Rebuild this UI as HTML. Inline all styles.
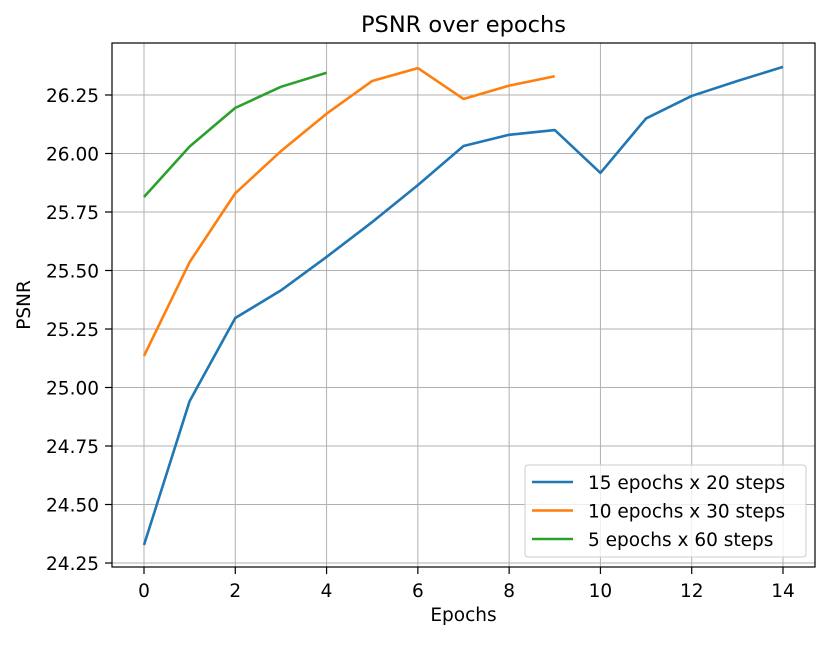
<!DOCTYPE html>
<html><head><meta charset="utf-8"><style>
body{margin:0;background:#fff;}
text{font-family:"DejaVu Sans","Liberation Sans",sans-serif;fill:#000;}
</style></head><body>
<svg id="chart" width="830" height="642" viewBox="0 0 830 642" xmlns="http://www.w3.org/2000/svg"></svg>
<script>
const epochsBlue=[0,1,2,3,4,5,6,7,8,9,10,11,12,13,14];
const blueValues=[24.327,24.942,25.297,25.415,25.558,25.707,25.865,26.032,26.08,26.10,25.917,26.15,26.246,26.31,26.37];
const epochsOrange=[0,1,2,3,4,5,6,7,8,9];
const orangeValues=[25.135,25.536,25.83,26.01,26.17,26.31,26.365,26.233,26.29,26.33];
const epochsGreen=[0,1,2,3,4];
const greenValues=[25.814,26.03,26.195,26.285,26.345];
const xTicks=[0,2,4,6,8,10,12,14];
const yTicks=[24.25,24.5,24.75,25.0,25.25,25.5,25.75,26.0,26.25];
const yTickLabels=["24.25","24.50","24.75","25.00","25.25","25.50","25.75","26.00","26.25"];
const seriesNames=["15 epochs x 20 steps","10 epochs x 30 steps","5 epochs x 60 steps"];
const colors=["#1f77b4","#ff7f0e","#2ca02c"];

const NS="http://www.w3.org/2000/svg";
const svg=document.getElementById('chart');
const L=112,R=815,T=43,B=567;
function xs(v){return 144+v*(783-144)/14;}
function ys(v){return 563-(v-24.25)*(468/2);}
function mk(tag,attrs,parent){const e=document.createElementNS(NS,tag);for(const k in attrs)e.setAttribute(k,attrs[k]);(parent||svg).appendChild(e);return e;}

const grid=mk('g',{});


xTicks.forEach(t=>{mk('line',{x1:xs(t),x2:xs(t),y1:T,y2:B,stroke:'#b0b0b0','stroke-width':1},grid);
 mk('line',{x1:xs(t),x2:xs(t),y1:B,y2:B+7,stroke:'#000','stroke-width':1.2});
 const tx=mk('text',{x:xs(t),y:B+30,'text-anchor':'middle','font-size':18.5});tx.textContent=t;
 
 });
yTicks.forEach((t,i)=>{mk('line',{x1:L,x2:R,y1:ys(t),y2:ys(t),stroke:'#b0b0b0','stroke-width':1},grid);
 mk('line',{x1:L-7,x2:L,y1:ys(t),y2:ys(t),stroke:'#000','stroke-width':1.2});
 const tx=mk('text',{x:L-13,y:ys(t)+7,'text-anchor':'end','font-size':18.5});tx.textContent=yTickLabels[i];
 
 });

function series(xsArr,vals,c,name){
 const p=mk('polyline',{points:xsArr.map((x,i)=>xs(x)+','+ys(vals[i])).join(' '),fill:'none',stroke:c,'stroke-width':2.6,'stroke-linejoin':'round'});
 
 
}
series(epochsBlue,blueValues,colors[0],'series-15-epochs');
series(epochsOrange,orangeValues,colors[1],'series-10-epochs');
series(epochsGreen,greenValues,colors[2],'series-5-epochs');

const frame=mk('rect',{x:L,y:T,width:R-L,height:B-T,fill:'none',stroke:'#000','stroke-width':1.2});



const title=mk('text',{x:(L+R)/2,y:32,'text-anchor':'middle','font-size':22.5});title.textContent='PSNR over epochs';


const xl=mk('text',{x:(L+R)/2,y:621,'text-anchor':'middle','font-size':18.5});xl.textContent='Epochs';


const yl=mk('text',{x:30,y:(T+B)/2,'text-anchor':'middle','font-size':18.5,transform:'rotate(-90 30 '+((T+B)/2)+')'});yl.textContent='PSNR';



const lg=mk('g',{});


mk('rect',{x:525,y:465,width:281,height:92,rx:3,fill:'#fff','fill-opacity':0.8,stroke:'#ccc'},lg);
seriesNames.forEach((n,i)=>{const y=482+i*28.5;
 mk('line',{x1:532,x2:573,y1:y,y2:y,stroke:colors[i],'stroke-width':2.6},lg);
 const t=mk('text',{x:588,y:y+7,'font-size':18.5},lg);t.textContent=n;
 
 });
</script>
</body></html>
